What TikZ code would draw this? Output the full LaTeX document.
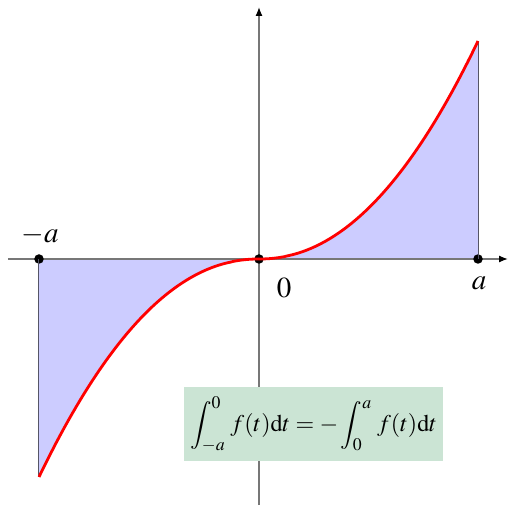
\documentclass[tikz,border=0pt]{standalone}
\usepackage{mathptmx}
\usetikzlibrary{arrows.meta}
\definecolor{axisgray}{HTML}{777777}
\definecolor{areablue}{HTML}{CCCCFF}
\definecolor{edgegray}{HTML}{555566}
\definecolor{boxgreen}{HTML}{CBE4D4}
\tikzset{
  axisline/.style={draw=axisgray, line width=1.3pt, -{Latex[length=9pt,width=7pt,black]}},
  dotnode/.style={circle, fill=black, inner sep=0pt, minimum size=9.5pt},
  lbl/.style={font=\fontsize{29}{32}\selectfont, inner sep=0pt},
  curve/.style={draw=red, line width=2.8pt},
}
\begin{document}
\begin{tikzpicture}[x=1pt,y=1pt]
\useasboundingbox (-259,-249) rectangle (249,259);
% filled areas
\fill[areablue] (0,0) -- plot[domain=0:219,samples=120] (\x,{218*(\x/219)^2.1}) -- (219,0) -- cycle;
\fill[areablue] (0,0) -- plot[domain=0:220,samples=120] (-\x,{-218*(\x/220)^2.1}) -- (-220,0) -- cycle;
\coordinate (ta) at (219,218);
\coordinate (tm) at (-220,-218);
% axes
\coordinate (xs) at (-251,0);
\coordinate (xe) at (249,0);
\coordinate (ys) at (0,-246);
\coordinate (ye) at (0,252);
\draw[axisline] (xs) -- (xe);
\draw[axisline] (ys) -- (ye);
% points
\node[dotnode] (pa) at (219,0) {};
\node[dotnode] (pm) at (-220,0) {};
\node[dotnode] (po) at (0,0) {};
\draw[edgegray, line width=1pt] (pa.center) -- (ta);
\draw[edgegray, line width=1pt] (pm.center) -- (tm);
% curve
\draw[curve] plot[domain=0:219,samples=120] (\x,{218*(\x/219)^2.1});
\draw[curve] plot[domain=0:220,samples=120] (-\x,{-218*(\x/220)^2.1});
% labels
\node[lbl] (la) at (220,-24) {$a$};
\node[lbl] (lm) at (-219,24) {$-a$};
\node[lbl] (lo) at (25,-29) {$0$};
% formula box
\node[fill=boxgreen, minimum width=259pt, minimum height=74pt, inner sep=0pt,
      font=\fontsize{24}{28}\selectfont] (fb) at (54.5,-165)
  {$\displaystyle\int_{-a}^{0}\, f(t)\mathrm{d}t = -\int_{0}^{a}\, f(t)\mathrm{d}t$};
\end{tikzpicture}
\end{document}
